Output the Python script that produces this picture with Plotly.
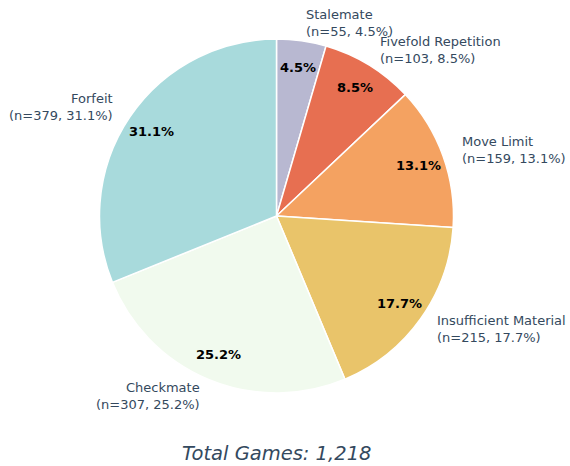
import math
import plotly.graph_objects as go

categories = ["Stalemate", "Fivefold Repetition", "Move Limit",
              "Insufficient Material", "Checkmate", "Forfeit"]
counts = [55, 103, 159, 215, 307, 379]
colors = ["#b8b8d1", "#e76f51", "#f4a261", "#e9c46a", "#f1faee", "#a8dadc"]

W, H = 570, 466
cx, cy, R = 276.5, 216, 177

total = sum(counts)

fig = go.Figure(go.Pie(
    labels=categories, values=counts, sort=False, direction="clockwise",
    rotation=0, textinfo="none", hoverinfo="label+value+percent",
    marker=dict(colors=colors, line=dict(color="white", width=1.5)),
    domain=dict(x=[(cx - R) / W, (cx + R) / W], y=[1 - (cy + R) / H, 1 - (cy - R) / H]),
    showlegend=False,
))

annotations = []
cum = 0
for name, n in zip(categories, counts):
    frac = n / total
    mid = (cum + n / 2) / total * 2 * math.pi
    cum += n
    s, c = math.sin(mid), math.cos(mid)
    pct = f"{frac*100:.1f}%"
    px_ = cx + 0.85 * R * s
    py_ = cy - 0.85 * R * c
    annotations.append(dict(
        x=px_ / W, y=1 - py_ / H, xref="paper", yref="paper", showarrow=False,
        text=f"<b>{pct}</b>", font=dict(family="DejaVu Sans", size=13, color="black"),
        xanchor="center", yanchor="middle"))
    lx = cx + 1.1 * R * s
    ly = cy - 1.1 * R * c
    right = s >= 0
    annotations.append(dict(
        x=lx / W, y=1 - ly / H, xref="paper", yref="paper", showarrow=False,
        text=f"{name}<br>(n={n}, {pct})", align="left" if right else "right",
        font=dict(family="DejaVu Sans", size=13, color="#34495e"),
        xanchor="left" if right else "right", yanchor="middle"))

annotations.append(dict(
    x=cx / W, y=1 - 453 / H, xref="paper", yref="paper", showarrow=False,
    text=f"<i>Total Games: {total:,}</i>",
    font=dict(family="DejaVu Sans", size=19.5, color="#34495e"),
    xanchor="center", yanchor="middle", borderpad=0))

fig.update_layout(
    width=W, height=H, margin=dict(l=0, r=0, t=0, b=0),
    paper_bgcolor="white", plot_bgcolor="white",
    annotations=annotations,
)

fig.write_html("out.html", config={"displayModeBar": False},
               post_script="document.body.style.margin='0';document.body.style.overflow='hidden';")
